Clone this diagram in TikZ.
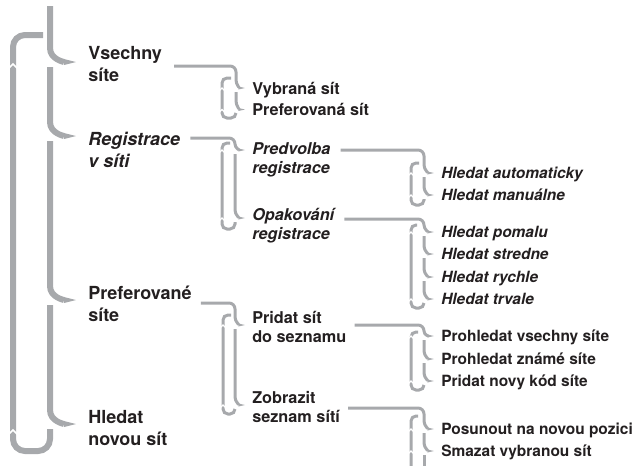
\documentclass[tikz,border=0pt]{standalone}
\usepackage{fontspec}
\setmainfont{TeX Gyre Heros}
\usetikzlibrary{arrows.meta,calc,positioning}
\definecolor{menugray}{RGB}{167,169,172}
\definecolor{menuink}{RGB}{35,31,32}

\begin{document}
\begin{tikzpicture}[x=0.75pt, y=0.75pt,
    trunk/.style={draw=menugray, line width=4.5pt},
    trunktip/.style={trunk, -{Triangle[length=9pt, width=4.5pt, line width=0pt]}},
    twig/.style={draw=menugray, line width=2.25pt},
    twigtip/.style={twig, -{Triangle[length=5pt, width=2.25pt, line width=0pt]}},
    notch/.style={draw=white, line width=0.9pt},
    topitem/.style={anchor=base west, inner sep=0pt, align=left, text=menuink, font=\fontsize{13.5}{16.5}\selectfont\bfseries},
    topslant/.style={topitem, font=\fontsize{13.5}{16.5}\selectfont\bfseries\itshape},
    subitem/.style={anchor=base west, inner sep=0pt, align=left, text=menuink, font=\fontsize{12.2}{14.25}\selectfont\bfseries},
    subslant/.style={subitem, font=\fontsize{12.2}{14.25}\selectfont\bfseries\itshape},
    leafitem/.style={anchor=base west, inner sep=0pt, text=menuink, font=\fontsize{11.6}{14}\selectfont\bfseries},
    leafslant/.style={leafitem, font=\fontsize{11.6}{14}\selectfont\bfseries\itshape}
]
    \useasboundingbox (0,0) rectangle (641,-465);
    \clip (0,0) rectangle (641,-465);

    % Main menu (base = last line)
    \node[topitem] (vsechny) at (88,-81.5) {Vsechny\\síte};
    \node[topslant] (registrace) at (88,-167.5) {Registrace\\v síti};
    \node[topitem] (preferovane) at (88,-321.5) {Preferované\\síte};
    \node[topitem] (hledat) at (88,-445.5) {Hledat\\novou sít};

    % Second level
    \node[subitem] (vybrana) at (252,-94) {Vybraná sít};
    \node[subitem] (prefsit) at (252,-115.5) {Preferovaná sít};
    \node[subslant] (predvolba) at (252,-173) {Predvolba\\registrace};
    \node[subslant] (opakovani) at (252,-239) {Opakování\\registrace};
    \node[subitem] (pridat) at (252,-342) {Pridat sít\\do seznamu};
    \node[subitem] (zobrazit) at (252,-422) {Zobrazit\\seznam sítí};

    % Third level
    \node[leafslant] (automaticky) at (441,-178.5) {Hledat automaticky};
    \node[leafslant] (manualne) at (441,-200.5) {Hledat manuálne};
    \node[leafslant] (pomalu) at (441,-237.5) {Hledat pomalu};
    \node[leafslant] (stredne) at (441,-259.5) {Hledat stredne};
    \node[leafslant] (rychle) at (441,-282.5) {Hledat rychle};
    \node[leafslant] (trvale) at (441,-304.5) {Hledat trvale};
    \node[leafitem] (prohledat) at (441,-341.5) {Prohledat vsechny síte};
    \node[leafitem] (zname) at (441,-364.5) {Prohledat známé síte};
    \node[leafitem] (novykod) at (441,-386.5) {Pridat novy kód síte};
    \node[leafitem] (posunout) at (441,-434.5) {Posunout na novou pozici};
    \node[leafitem] (smazat) at (441,-456.5) {Smazat vybranou sít};

    % Main spine with the loop back to the top
    \draw[trunktip] (50,-6) -- (50,-48) to[out=-90,in=180] ($(vsechny.base west)+(-12,19.5)$);
    \draw[trunktip] (50,-67) -- (50,-122) to[out=-90,in=180] ($(registrace.base west)+(-12,31.5)$);
    \draw[trunktip] (50,-141) -- (50,-286) to[out=-90,in=180] ($(preferovane.base west)+(-12,21.5)$);
    \draw[trunktip] (50,-305) -- (50,-410) to[out=-90,in=180] ($(hledat.base west)+(-12,21.5)$);
    \draw[trunk] (50,-429) -- (50,-439) to[out=-90,in=0] (38,-451) -- (25,-451) to[out=180,in=-90] (13,-439) -- (13,-47) to[out=90,in=180] (25,-35) -- (43,-35);
    \draw[notch, line width=1.1pt] (8,-69) -- (13,-64) -- (18,-69) (8,-435) -- (13,-430) -- (18,-435);

    % Vsechny site
    \draw[twigtip] ($(vsechny.east |- 0,-66)+(12,0)$) -- (230,-66) to[out=0,in=90] (236,-72) -- (236,-80) to[out=-90,in=180] ($(vybrana.base west)+(-7,6)$);
    \draw[twigtip] (236,-92) -- (236,-101) to[out=-90,in=180] ($(prefsit.base west)+(-7,6)$);
    \draw[twig] (236,-113) to[out=-90,in=0] (231,-118) -- (227,-118) to[out=180,in=-90] (222,-113) -- (222,-83) to[out=90,in=180] (227,-78) -- (231,-78);
    \draw[notch] (219,-91) -- (222,-88) -- (225,-91) (219,-112.5) -- (222,-109.5) -- (225,-112.5);

    % Registrace v siti
    \draw[twigtip] ($(registrace.east |- 0,-138)+(10,0)$) -- (229,-138) to[out=0,in=90] (235,-144) to[out=-90,in=180] ($(predvolba.base west)+(-7,23)$);
    \draw[twigtip] (235,-154) -- (235,-210) to[out=-90,in=180] ($(opakovani.base west)+(-7,21)$);
    \draw[twig] (235,-222) -- (235,-224) to[out=-90,in=0] (230,-229) -- (227,-229) to[out=180,in=-90] (222,-224) -- (222,-148) to[out=90,in=180] (227,-143) -- (230,-143);
    \draw[notch] (219,-153) -- (222,-150) -- (225,-153) (219,-221) -- (222,-218) -- (225,-221);

    % Preferovane site
    \draw[twigtip] ($(preferovane.east |- 0,-303)+(9,0)$) -- (229,-303) to[out=0,in=90] (235,-309) -- (235,-317) to[out=-90,in=180] ($(pridat.base west)+(-7,17)$);
    \draw[twigtip] (235,-329) -- (235,-397) to[out=-90,in=180] ($(zobrazit.base west)+(-7,17)$);
    \draw[twig] (235,-409) to[out=-90,in=0] (230,-414) -- (228,-414) to[out=180,in=-90] (223,-409) -- (223,-320) to[out=90,in=180] (228,-315) -- (231,-315);
    \draw[notch] (220,-328) -- (223,-325) -- (226,-328) (220,-408) -- (223,-405) -- (226,-408);

    % Predvolba registrace
    \draw[twigtip] ($(predvolba.east |- 0,-150)+(10,0)$) -- (418,-150) to[out=0,in=90] (424,-156) -- (424,-165) to[out=-90,in=180] ($(automaticky.base west)+(-7,5.5)$);
    \draw[twigtip] (424,-177) -- (424,-187) to[out=-90,in=180] ($(manualne.base west)+(-7,5.5)$);
    \draw[twig] (424,-199) -- (424,-200) to[out=-90,in=0] (419,-205) -- (416,-205) to[out=180,in=-90] (411,-200) -- (411,-168) to[out=90,in=180] (416,-163) -- (419,-163);
    \draw[notch] (408,-176) -- (411,-173) -- (414,-176) (408,-198) -- (411,-195) -- (414,-198);

    % Opakovani registrace
    \draw[twigtip] ($(opakovani.east |- 0,-219)+(10,0)$) -- (418,-219) to[out=0,in=90] (424,-225) to[out=-90,in=180] ($(pomalu.base west)+(-7,5.5)$);
    \draw[twigtip] (424,-236) -- (424,-246) to[out=-90,in=180] ($(stredne.base west)+(-7,5.5)$);
    \draw[twigtip] (424,-258) -- (424,-269) to[out=-90,in=180] ($(rychle.base west)+(-7,5.5)$);
    \draw[twigtip] (424,-281) -- (424,-291) to[out=-90,in=180] ($(trvale.base west)+(-7,5.5)$);
    \draw[twig] (424,-303) to[out=-90,in=0] (419,-308) -- (416,-308) to[out=180,in=-90] (411,-303) -- (411,-230) to[out=90,in=180] (416,-225) -- (417,-225);
    \draw[notch] (408,-235) -- (411,-232) -- (414,-235) (408,-302) -- (411,-299) -- (414,-302);

    % Pridat sit do seznamu
    \draw[twigtip] ($(pridat.east |- 0,-325)+(8,0)$) -- (418,-325) to[out=0,in=90] (424,-331) to[out=-90,in=180] ($(prohledat.base west)+(-7,5.5)$);
    \draw[twigtip] (424,-340) -- (424,-351) to[out=-90,in=180] ($(zname.base west)+(-7,5.5)$);
    \draw[twigtip] (424,-363) -- (424,-373) to[out=-90,in=180] ($(novykod.base west)+(-7,5.5)$);
    \draw[twig] (424,-385) to[out=-90,in=0] (419,-390) -- (416,-390) to[out=180,in=-90] (411,-385) -- (411,-337) to[out=90,in=180] (416,-332) -- (418,-332);
    \draw[notch] (408,-339) -- (411,-336) -- (414,-339) (408,-384) -- (411,-381) -- (414,-384);

    % Zobrazit seznam siti
    \draw[twigtip] ($(zobrazit.east |- 0,-408)+(8,0)$) -- (418,-408) to[out=0,in=90] (424,-414) -- (424,-421) to[out=-90,in=180] ($(posunout.base west)+(-7,5.5)$);
    \draw[twigtip] (424,-433) -- (424,-443) to[out=-90,in=180] ($(smazat.base west)+(-7,5.5)$);
    \draw[twig] (424,-455) -- (424,-470);
    \draw[twig] (411,-470) -- (411,-421) to[out=90,in=180] (416,-416) -- (418,-416);
    \draw[notch] (408,-432) -- (411,-429) -- (414,-432) (408,-454) -- (411,-451) -- (414,-454);
\end{tikzpicture}
\end{document}
